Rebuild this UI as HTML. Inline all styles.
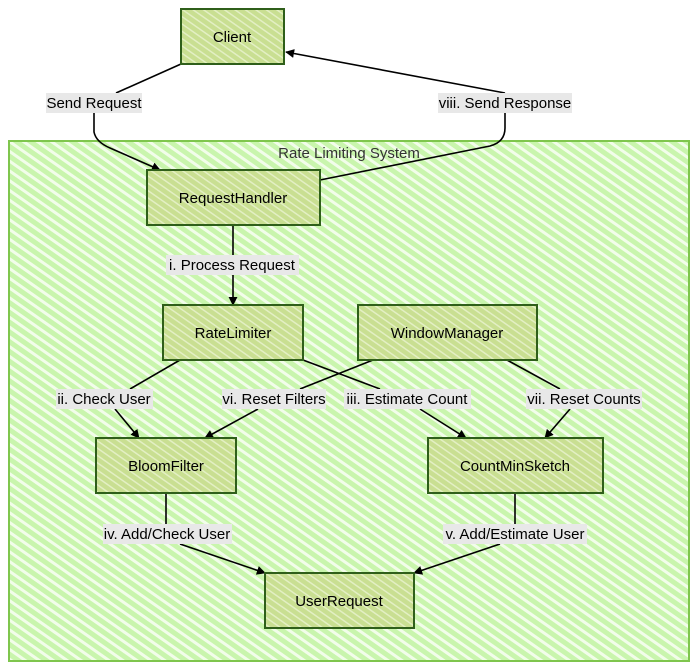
<!DOCTYPE html>
<html><head><meta charset="utf-8"><style>
body{margin:0;background:#fff;}
svg{display:block;font-family:"Liberation Sans",Arial,sans-serif;}
</style></head><body>
<svg width="700" height="669" viewBox="0 0 700 669" xmlns="http://www.w3.org/2000/svg">
<defs>
<pattern id="bg" width="8" height="8" patternUnits="userSpaceOnUse" patternTransform="rotate(-55)">
<rect width="8" height="8" fill="#c9f5ad"/><rect width="3" height="8" fill="#f2fdea"/>
</pattern>
<pattern id="nd" width="6" height="6" patternUnits="userSpaceOnUse" patternTransform="rotate(-55)">
<rect width="6" height="6" fill="#c9df92"/><rect width="1.5" height="6" fill="#e3efc4"/>
</pattern>
<marker id="ah" viewBox="0 0 10 10" refX="9" refY="5" markerWidth="9" markerHeight="9" orient="auto-start-reverse" markerUnits="userSpaceOnUse"><path d="M0,0L10,5L0,10z" fill="#000"/></marker>
</defs>
<rect x="9" y="141" width="680" height="520" fill="url(#bg)" stroke="#7fc64d" stroke-width="2"/>
<text x="349" y="158" font-size="15" text-anchor="middle" fill="#333">Rate Limiting System</text>
<g fill="none" stroke="#000" stroke-width="1.6">
<path d="M181,64 L116,93"/>
<path d="M94,113 L94,132 Q96,142 110,148 L160,170" marker-end="url(#ah)"/>
<path d="M320,180 L490,146 Q505,142 505,128 L505,113"/>
<path d="M505,93 L286,52" marker-end="url(#ah)"/>
<path d="M233,225 L233,255"/><path d="M233,275 L233,305" marker-end="url(#ah)"/>
<path d="M180,360 L130,389"/><path d="M115,409 L139,438" marker-end="url(#ah)"/>
<path d="M373,360 L300,389"/><path d="M258,409 L205,438" marker-end="url(#ah)"/>
<path d="M303,360 L380,389"/><path d="M420,409 L466,438" marker-end="url(#ah)"/>
<path d="M507,360 L560,389"/><path d="M570,409 L545,438" marker-end="url(#ah)"/>
<path d="M166,493 L166,524"/><path d="M180,544 L265,573" marker-end="url(#ah)"/>
<path d="M515,493 L515,524"/><path d="M500,544 L414,573" marker-end="url(#ah)"/>
</g>
<g stroke="#2f5f1a" stroke-width="2" fill="url(#nd)">
<rect x="181" y="9" width="103" height="55"/>
<rect x="147" y="170" width="173" height="55"/>
<rect x="163" y="305" width="140" height="55"/>
<rect x="358" y="305" width="179" height="55"/>
<rect x="96" y="438" width="140" height="55"/>
<rect x="428" y="438" width="175" height="55"/>
<rect x="265" y="573" width="149" height="55"/>
</g>
<g font-size="15" text-anchor="middle" fill="#000">
<text x="232" y="42">Client</text>
<text x="233" y="203">RequestHandler</text>
<text x="233" y="338">RateLimiter</text>
<text x="447" y="338">WindowManager</text>
<text x="166" y="471">BloomFilter</text>
<text x="515" y="471">CountMinSketch</text>
<text x="339" y="606">UserRequest</text>
</g>
<g fill="#e8e8e8">
<rect x="46" y="93" width="96" height="20"/>
<rect x="438" y="93" width="134" height="20"/>
<rect x="166" y="255" width="133" height="20"/>
<rect x="56" y="389" width="97" height="20"/>
<rect x="222" y="389" width="104" height="20"/>
<rect x="344" y="389" width="127" height="20"/>
<rect x="526" y="389" width="116" height="20"/>
<rect x="103" y="524" width="129" height="20"/>
<rect x="443" y="524" width="144" height="20"/>
</g>
<g font-size="15" text-anchor="middle" fill="#000">
<text x="94" y="108">Send Request</text>
<text x="505" y="108">viii. Send Response</text>
<text x="232" y="270">i. Process Request</text>
<text x="104" y="404">ii. Check User</text>
<text x="274" y="404">vi. Reset Filters</text>
<text x="407" y="404">iii. Estimate Count</text>
<text x="584" y="404">vii. Reset Counts</text>
<text x="167" y="539">iv. Add/Check User</text>
<text x="515" y="539">v. Add/Estimate User</text>
</g>
</svg>
</body></html>
